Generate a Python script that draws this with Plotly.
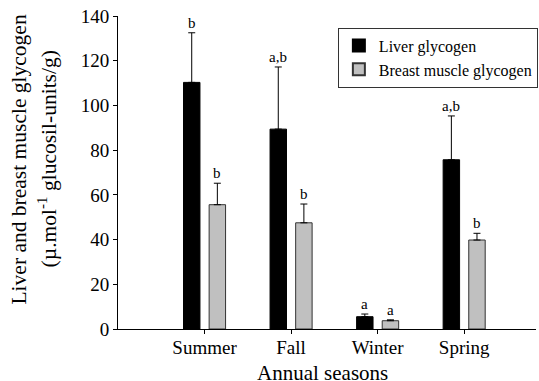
import plotly.graph_objects as go

seasons = ["Summer", "Fall", "Winter", "Spring"]
liver = [110.3, 89.4, 5.5, 75.7]
liver_err = [22.2, 27.8, 1.2, 19.6]
breast = [55.6, 47.5, 3.7, 39.8]
breast_err = [9.6, 8.4, 0.4, 3.0]
liver_letters = ["b", "a,b", "a", "a,b"]
breast_letters = ["b", "b", "a", "b"]

pos = list(range(len(seasons)))
W = 0.19
HALF = 0.148
FONT = "Liberation Serif, Times New Roman, serif"

fig = go.Figure()
fig.add_trace(go.Bar(
    x=pos, y=liver, name="Liver glycogen", width=W, offset=-HALF - W / 2,
    marker=dict(color="#000000", line=dict(color="#000000", width=1)),
    error_y=dict(type="data", symmetric=False, array=liver_err,
                 arrayminus=[0] * 4, color="#000000", thickness=1, width=3.5),
))
fig.add_trace(go.Bar(
    x=pos, y=breast, name="Breast muscle glycogen", width=W, offset=HALF - W / 2,
    marker=dict(color="#c0c0c0", line=dict(color="#333333", width=1)),
    error_y=dict(type="data", symmetric=False, array=breast_err,
                 arrayminus=[0] * 4, color="#000000", thickness=1, width=3.5),
))

ann = []
for i in pos:
    ann.append(dict(x=i - HALF, y=liver[i] + liver_err[i], text=liver_letters[i],
                    showarrow=False, yanchor="bottom", yshift=0,
                    font=dict(family=FONT, size=15, color="#000")))
    ann.append(dict(x=i + HALF, y=breast[i] + breast_err[i], text=breast_letters[i],
                    showarrow=False, yanchor="bottom", yshift=0,
                    font=dict(family=FONT, size=15, color="#000")))

ann.append(dict(x=(19 - 118) / 420, xref="paper", y=0.543, yref="paper", xanchor="center",
                yanchor="middle", showarrow=False, textangle=-90,
                text="Liver and breast muscle glycogen",
                font=dict(family=FONT, size=21.5, color="#000")))
ann.append(dict(x=(47 - 118) / 420, xref="paper", y=0.543, yref="paper", xanchor="center",
                yanchor="middle", showarrow=False, textangle=-90,
                text="(µ.mol<sup>-1</sup> glucosil-units/g)",
                font=dict(family=FONT, size=21.5, color="#000")))
ann.append(dict(x=0.49, xref="paper", y=-0.186, yref="paper", xanchor="center",
                yanchor="bottom", showarrow=False, text="Annual seasons",
                font=dict(family=FONT, size=21, color="#000")))

fig.update_layout(
    width=539, height=381,
    margin=dict(l=118, r=1, t=16, b=52),
    paper_bgcolor="white", plot_bgcolor="white",
    barmode="group",
    showlegend=True,
    legend=dict(x=0.526, y=0.963, xanchor="left", yanchor="top",
                bordercolor="#333333", borderwidth=1, bgcolor="white",
                font=dict(family=FONT, size=16, color="#000"),
                tracegroupgap=0, itemsizing="constant"),
    annotations=ann,
    font=dict(family=FONT, color="#000"),
)
fig.update_xaxes(
    range=[-1, 3.83], tickvals=pos, ticktext=seasons,
    showline=True, linecolor="#000", linewidth=1, ticks="outside", ticklen=4,
    tickcolor="#000", showgrid=False, zeroline=False, ticklabelstandoff=-3,
    tickfont=dict(family=FONT, size=19, color="#000"),
)
fig.update_yaxes(
    range=[0, 140], tickvals=[0, 20, 40, 60, 80, 100, 120, 140],
    showline=True, linecolor="#000", linewidth=1, ticks="outside", ticklen=4,
    tickcolor="#000", showgrid=False, zeroline=False,
    tickfont=dict(family=FONT, size=19, color="#000"),
)

# the browser's default 8px body margin would shift the figure; remove it
fig.write_html("out.html", config={"displayModeBar": False},
               post_script="document.body.style.margin='0px';")
